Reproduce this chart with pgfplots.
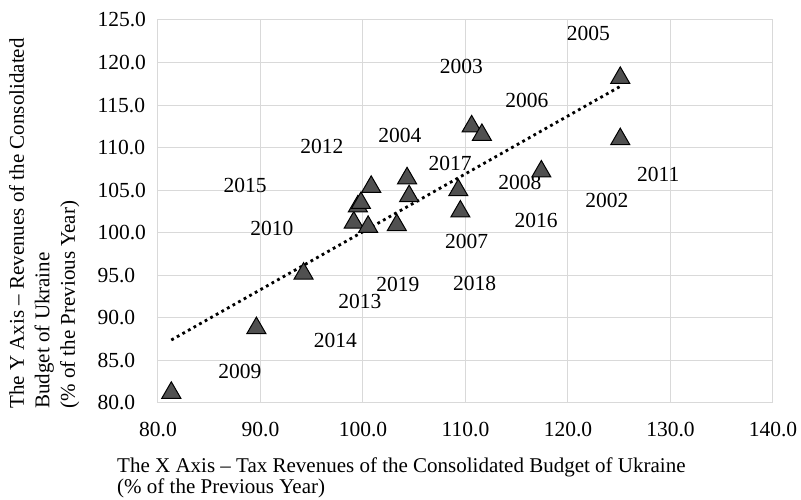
\documentclass[border=0pt]{standalone}
\usepackage{pgfplots}
\pgfplotsset{compat=1.18}
\usepackage{fontspec}
\setmainfont{Liberation Serif}
\definecolor{gridc}{RGB}{217,217,217}
\definecolor{markc}{RGB}{80,80,80}
\begin{document}
\begin{tikzpicture}
\begin{axis}[
  scale only axis, width=615pt, height=383pt,
  xmin=80, xmax=140, ymin=80, ymax=125,
  xtick={80,90,...,140}, ytick={80,85,...,125},
  grid=major, major grid style={gridc, line width=1pt},
  axis line style={gridc, line width=1pt},
  tick style={draw=none},
  /pgf/number format/assume math mode=true,
  ticklabel style={font=\fontsize{21.5}{24}\selectfont, /pgf/number format/fixed, /pgf/number format/fixed zerofill, /pgf/number format/precision=1},
  xticklabel style={yshift=-16pt},
  yticklabel style={anchor=west, xshift=-64pt},
  xlabel={The X Axis – Tax Revenues of the Consolidated Budget of Ukraine\\(\% of the Previous Year)},
  xlabel style={align=left, font=\fontsize{21}{21}\selectfont, at={(axis description cs:-0.072,-0.133)}, anchor=north west},
  ylabel={The Y Axis – Revenues of the Consolidated\\Budget of Ukraine\\(\% of the Previous Year)},
  ylabel style={align=left, font=\fontsize{21}{25.5}\selectfont, at={(axis description cs:-0.248,-0.024)}, anchor=north west},
  clip=false,
]
\addplot[only marks, mark=triangle*, mark size=11pt, mark options={fill=markc, draw=black, line width=1pt}] coordinates {
  (81.3,81.2) (89.6,88.8) (94.2,95.2) (99.1,101.2) (99.5,103.1) (99.8,103.5)
  (100.5,100.7) (100.8,105.4) (103.3,100.9) (104.3,106.4) (104.5,104.3)
  (109.3,105.0) (109.5,102.5) (110.6,112.5) (111.6,111.5) (117.4,107.2)
  (125.1,118.2) (125.1,111.0)
};
\addplot[black, line width=2.8pt, dash pattern=on 2.8pt off 3.6pt] coordinates {(81.3,87.4) (125.1,117.2)};
\begin{scope}[every node/.style={font=\fontsize{21.5}{24}\selectfont}]
\node at (axis cs:109.6,119.5) {2003};
\node at (axis cs:96.0,110.1) {2012};
\node at (axis cs:103.6,111.4) {2004};
\node at (axis cs:108.5,108.2) {2017};
\node at (axis cs:88.5,105.6) {2015};
\node at (axis cs:91.1,100.55) {2010};
\node at (axis cs:110.1,99.0) {2007};
\node at (axis cs:103.4,93.9) {2019};
\node at (axis cs:110.9,94.1) {2018};
\node at (axis cs:99.7,91.9) {2013};
\node at (axis cs:97.3,87.4) {2014};
\node at (axis cs:88.0,83.7) {2009};
\node at (axis cs:122.0,123.4) {2005};
\node at (axis cs:116.0,115.6) {2006};
\node at (axis cs:115.3,105.9) {2008};
\node at (axis cs:128.8,106.8) {2011};
\node at (axis cs:123.8,103.8) {2002};
\node at (axis cs:116.9,101.4) {2016};
\end{scope}
\end{axis}
\pgfresetboundingbox
\path[use as bounding box] (-158pt,-97pt) rectangle (643pt,403pt);
\end{tikzpicture}
\end{document}
